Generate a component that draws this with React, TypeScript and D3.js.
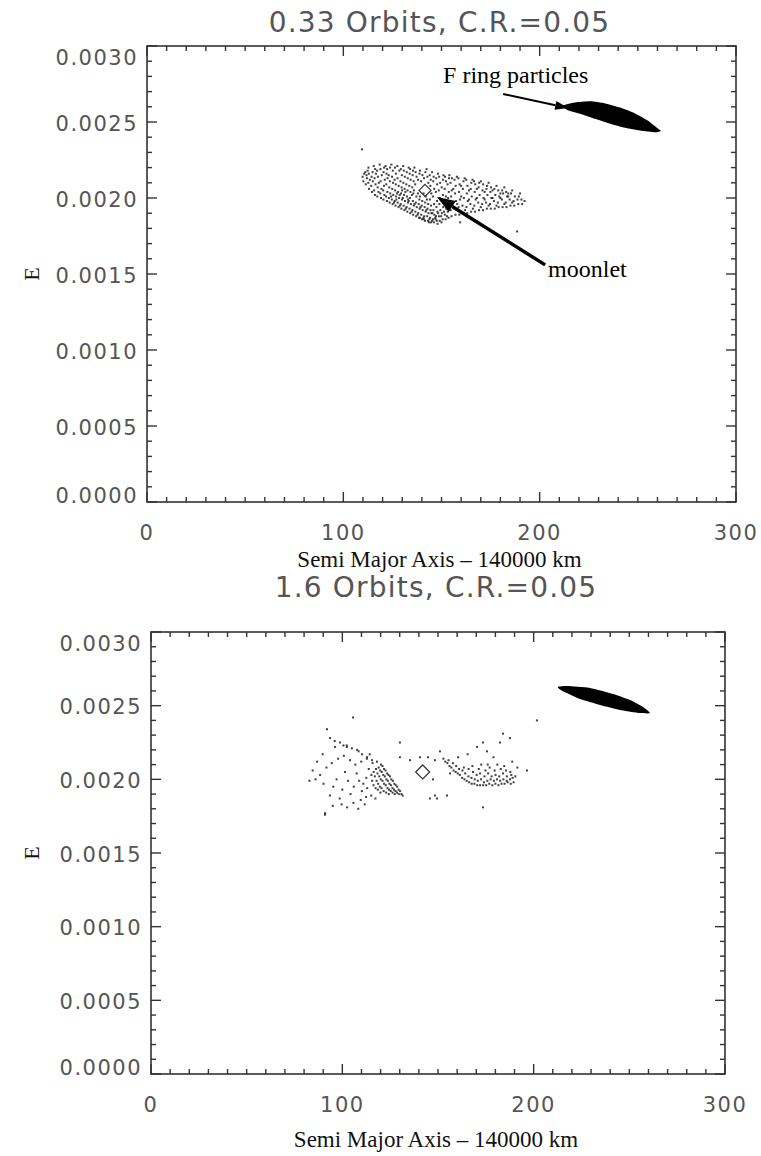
import * as d3 from 'd3';
import { useEffect, useRef } from 'react';

// text
const panelTitles = ['0.33 Orbits, C.R.=0.05', '1.6 Orbits, C.R.=0.05'];
const xTitle = 'Semi Major Axis \u2013 140000 km';
const yTitle = 'E';
const xMajor = [0, 100, 200, 300];
const xLabels = ['0', '100', '200', '300'];
const yMajor = [0, 0.0005, 0.001, 0.0015, 0.002, 0.0025, 0.003];
const yLabels = ['0.0000', '0.0005', '0.0010', '0.0015', '0.0020', '0.0025', '0.0030'];

// moonlet position (a - 140000 km, e)
const moonletTop = [141.6, 0.00205];
const moonletBottom = [142.0, 0.00205];

// outline of the solid F ring particle band
const fringTop = [
  [211.6, 0.002607], [218.0, 0.002628], [225.7, 0.002636], [233.3, 0.002622], [241.0, 0.002595],
  [248.6, 0.002556], [255.2, 0.002508], [260.3, 0.002456], [261.8, 0.002441], [258.8, 0.002432],
  [251.1, 0.002444], [243.5, 0.002462], [235.9, 0.002488], [228.2, 0.002521], [220.6, 0.002555],
  [214.3, 0.002578],
];
const fringBottom = [
  [212.7, 0.002627], [217.4, 0.002633], [229.4, 0.00262], [241.5, 0.002579], [250.4, 0.002538],
  [257.1, 0.002491], [260.8, 0.00245], [255.6, 0.00245], [245.1, 0.002471], [234.7, 0.002505],
  [224.2, 0.002545], [217.4, 0.002586], [213.8, 0.00261],
];

// scattered moonlet-region particles, 0.33 orbits
const cloudTop = [
  [110.2,.00211],[109.8,.00214],[110.6,.00216],
  [111.4,.00209],[112.0,.00213],[111.2,.00217],[111.8,.00215],
  [113.1,.00206],[112.7,.00210],[113.5,.00212],[113.0,.00216],[112.4,.00218],
  [114.6,.00204],[114.2,.00208],[115.0,.00211],[114.4,.00214],[114.9,.00217],
  [116.1,.00202],[115.7,.00205],[116.4,.00209],[115.9,.00213],[116.6,.00216],[116.2,.00219],
  [117.3,.00201],[117.9,.00204],[117.5,.00207],[118.1,.00210],[117.6,.00214],[117.2,.00218],
  [119.2,.00200],[118.8,.00203],[119.4,.00206],[119.0,.00211],[119.6,.00215],[118.9,.00219],
  [120.4,.00199],[120.9,.00202],[120.3,.00205],[120.7,.00208],[121.1,.00212],[120.5,.00217],[120.8,.00220],
  [122.2,.00198],[121.8,.00201],[122.4,.00204],[121.9,.00209],[122.5,.00213],[122.0,.00216],[122.3,.00219],
  [123.6,.00197],[123.2,.00200],[123.9,.00203],[123.4,.00207],[123.7,.00211],[123.1,.00215],[123.8,.00220],
  [125.1,.00196],[124.7,.00199],[125.4,.00202],[124.9,.00206],[125.3,.00210],[124.8,.00214],[125.2,.00218],
  [126.6,.00195],[126.2,.00198],[126.9,.00201],[126.4,.00205],[126.7,.00209],[126.1,.00212],[126.8,.00216],[126.3,.00220],
  [128.1,.00194],[127.7,.00197],[128.4,.00200],[127.9,.00204],[128.2,.00208],[127.6,.00213],[128.5,.00218],
  [129.6,.00193],[129.2,.00196],[129.9,.00199],[129.4,.00203],[129.7,.00207],[129.1,.00211],[129.8,.00215],[129.3,.00219],
  [131.1,.00192],[130.7,.00195],[131.4,.00198],[130.9,.00202],[131.2,.00206],[130.6,.00210],[131.3,.00214],[130.8,.00218],
  [132.6,.00191],[132.2,.00194],[132.9,.00197],[132.4,.00201],[132.7,.00205],[132.1,.00209],[132.8,.00213],[132.3,.00217],
  [134.1,.00190],[133.7,.00193],[134.4,.00196],[133.9,.00200],[134.2,.00204],[133.6,.00208],[134.3,.00212],[133.8,.00216],[134.0,.00219],
  [135.6,.00189],[135.2,.00192],[135.9,.00195],[135.4,.00198],[135.7,.00203],[135.1,.00207],[135.8,.00211],[135.3,.00215],[135.5,.00218],
  [137.1,.00188],[136.7,.00191],[137.4,.00194],[136.9,.00197],[137.2,.00201],[136.6,.00209],[137.3,.00214],[136.8,.00217],
  [138.6,.00187],[138.2,.00190],[138.9,.00193],[138.4,.00196],[138.7,.00199],[138.1,.00212],[138.8,.00216],
  [140.1,.00186],[139.7,.00189],[140.4,.00192],[139.9,.00195],[140.2,.00198],[139.6,.00211],[140.3,.00215],
  [141.6,.00185],[141.2,.00188],[141.9,.00191],[141.4,.00194],[141.7,.00197],[141.1,.00213],[141.8,.00217],
  [143.1,.00185],[142.7,.00188],[143.4,.00190],[142.9,.00193],[143.2,.00196],[142.6,.00199],[143.3,.00210],[142.8,.00214],
  [144.6,.00184],[144.2,.00187],[144.9,.00190],[144.4,.00192],[144.7,.00195],[144.1,.00199],[144.8,.00203],[144.3,.00208],[144.5,.00212],[144.0,.00215],
  [146.1,.00184],[145.7,.00186],[146.4,.00189],[145.9,.00192],[146.2,.00196],[145.6,.00201],[146.3,.00206],[145.8,.00211],[146.0,.00214],
  [147.6,.00185],[147.2,.00188],[147.9,.00191],[147.4,.00194],[147.7,.00198],[147.1,.00204],[147.8,.00209],[147.3,.00213],
  [149.1,.00185],[148.7,.00188],[149.4,.00192],[148.9,.00196],[149.2,.00200],[148.6,.00205],[149.3,.00210],[148.8,.00214],
  [150.6,.00186],[150.2,.00190],[150.9,.00194],[150.4,.00198],[150.7,.00202],[150.1,.00207],[150.8,.00212],
  [152.1,.00186],[151.7,.00189],[152.4,.00193],[151.9,.00197],[152.2,.00201],[151.6,.00206],[152.3,.00211],[151.8,.00214],
  [153.6,.00187],[153.2,.00191],[153.9,.00195],[153.4,.00200],[153.7,.00204],[153.1,.00209],[153.8,.00213],
  [155.1,.00188],[154.7,.00192],[155.4,.00196],[154.9,.00201],[155.2,.00205],[154.6,.00210],[155.3,.00213],
  [157.1,.00189],[156.7,.00193],[157.4,.00198],[156.9,.00203],[157.2,.00208],[156.6,.00212],
  [159.1,.00189],[158.7,.00194],[159.4,.00199],[158.9,.00204],[159.2,.00209],[158.6,.00213],
  [161.1,.00190],[160.7,.00195],[161.4,.00200],[160.9,.00206],[161.2,.00211],
  [163.1,.00190],[162.7,.00194],[163.4,.00198],[162.9,.00203],[163.2,.00208],[162.6,.00212],
  [165.1,.00191],[164.7,.00196],[165.4,.00201],[164.9,.00206],[165.2,.00210],
  [167.1,.00191],[166.7,.00195],[167.4,.00199],[166.9,.00204],[167.2,.00209],[166.6,.00211],
  [169.1,.00192],[168.7,.00197],[169.4,.00202],[168.9,.00207],[169.2,.00210],
  [171.1,.00192],[170.7,.00196],[171.4,.00200],[170.9,.00205],[171.2,.00209],
  [173.1,.00193],[172.7,.00197],[173.4,.00202],[172.9,.00206],[173.2,.00208],
  [175.1,.00193],[174.7,.00196],[175.4,.00200],[174.9,.00204],[175.2,.00207],
  [177.1,.00193],[176.7,.00198],[177.4,.00202],[176.9,.00206],
  [179.1,.00194],[178.7,.00197],[179.4,.00201],[178.9,.00205],
  [181.1,.00194],[180.7,.00199],[181.4,.00203],[180.9,.00205],
  [183.1,.00194],[182.7,.00197],[183.4,.00201],[182.9,.00204],
  [185.1,.00195],[184.7,.00199],[185.4,.00203],
  [187.1,.00195],[186.7,.00198],[187.4,.00201],
  [189.1,.00196],[188.7,.00199],[189.4,.00201],
  [191.1,.00196],[190.7,.00199],
  // darker lower part near the moonlet
  [124.3,.00201],[125.8,.00197],[127.3,.00203],[128.8,.00195],[130.3,.00200],[131.8,.00193],[133.3,.00198],[134.8,.00191],
  [136.3,.00196],[137.8,.00189],[139.3,.00194],[140.8,.00187],[142.3,.00192],[143.8,.00186],[145.3,.00190],[146.8,.00187],
  [148.3,.00190],[149.8,.00188],[151.3,.00191],[138.0,.00203],[139.0,.00201],[140.9,.00203],[142.0,.00201],[136.0,.00205],
  [134.9,.00202],[133.0,.00199],[131.6,.00204],[129.9,.00205],[128.7,.00202],[127.0,.00199],[145.2,.00185],[147.0,.00186],
  [143.6,.00184],[141.0,.00186],[139.0,.00187],[150.0,.00184],[152.8,.00188],[148.0,.00183],
  // filling between the rows
  [112.8,.00220],[115.5,.00221],[118.5,.00222],[121.5,.00221],[124.5,.00222],[127.5,.00221],[130.5,.00221],[133.3,.00220],
  [136.2,.00220],[139.0,.00218],[142.4,.00219],[145.2,.00217],[148.2,.00216],[151.0,.00215],[154.0,.00215],[157.8,.00214],
  [161.8,.00213],[165.8,.00212],[170.0,.00211],[174.0,.00210],[178.0,.00208],[182.0,.00207],[186.0,.00205],[190.0,.00203],
  [192.3,.00198],[158.0,.00196],[162.0,.00192],[166.0,.00193],[170.0,.00194],[174.0,.00195],[178.0,.00195],[182.0,.00196],
  [186.0,.00197],[160.0,.00201],[164.0,.00199],[168.0,.00200],[172.0,.00199],[176.0,.00200],[180.0,.00200],[184.0,.00201],
  [156.0,.00206],[160.0,.00208],[164.0,.00205],[168.0,.00206],[172.0,.00204],[176.0,.00205],[180.0,.00203],[184.0,.00203],
  // strays
  [109.5,.00232],[188.5,.00178],[159.5,.00184],
];

// scattered particles, 1.6 orbits
const cloudBottom = [
  // dense wedge left of the moonlet
  [120.2,.00210],[121.0,.00209],[121.8,.00207],[122.6,.00206],[123.4,.00204],[124.1,.00203],[124.9,.00202],[125.6,.00200],
  [126.4,.00199],[127.2,.00197],[127.9,.00196],[128.7,.00195],[129.4,.00193],[130.2,.00192],[130.9,.00190],[131.5,.00189],
  [119.0,.00208],[119.8,.00206],[120.6,.00205],[121.4,.00203],[122.2,.00202],[123.0,.00200],[123.8,.00199],[124.6,.00197],
  [125.4,.00196],[126.2,.00194],[127.0,.00193],[127.8,.00192],[128.6,.00191],[129.5,.00190],
  [117.6,.00207],[118.4,.00204],[119.3,.00202],[120.1,.00200],[121.0,.00199],[121.8,.00197],[122.7,.00196],[123.6,.00194],
  [124.4,.00193],[125.3,.00192],[126.3,.00191],[127.4,.00190],
  [116.4,.00205],[117.0,.00202],[117.9,.00199],[118.7,.00197],[119.6,.00195],[120.5,.00194],[121.6,.00192],[122.9,.00191],[124.3,.00190],
  [115.2,.00203],[115.6,.00199],[116.3,.00196],[117.4,.00194],[118.6,.00193],[119.9,.00191],
  // sparse spread to the left
  [113.8,.00207],[112.5,.00201],[111.0,.00197],[113.0,.00194],[110.2,.00192],[108.8,.00199],[107.5,.00204],[106.0,.00195],
  [104.3,.00190],[109.6,.00186],[112.4,.00188],[115.1,.00189],[117.3,.00187],[103.0,.00199],[101.4,.00205],[100.0,.00193],
  [98.6,.00187],[97.0,.00200],[95.3,.00195],[99.6,.00183],[102.5,.00181],[105.8,.00184],[108.3,.00180],[111.7,.00183],
  [95.0,.00182],[93.5,.00189],[91.0,.00177],[90.2,.00197],[88.4,.00203],[86.0,.00200],[84.5,.00206],[82.8,.00199],
  [91.7,.00208],[94.5,.00211],[97.8,.00214],[100.8,.00216],[104.0,.00213],[106.8,.00210],[109.9,.00212],[112.8,.00214],
  [115.8,.00211],[102.3,.00223],[96.2,.00222],[89.7,.00217],[86.8,.00212],[108.5,.00219],[114.3,.00217],
  [93.6,.00228],[96.0,.00226],[98.8,.00225],[100.6,.00223],[102.4,.00222],[105.0,.00221],[107.7,.00220],[110.3,.00217],
  [112.9,.00215],[115.5,.00213],[118.1,.00212],[92.0,.00234],[105.6,.00242],[90.9,.00176],
  // around the moonlet
  [130.1,.00225],[135.4,.00213],[140.6,.00215],[144.8,.00215],[148.4,.00213],[130.1,.00215],[147.4,.00200],[148.4,.00189],
  [154.7,.00189],[149.5,.00187],[145.8,.00187],[151.0,.00219],[173.5,.00181],[156.3,.00204],[196.5,.00206],[201.7,.00240],
  // band right of the moonlet
  [152.8,.00214],[153.8,.00212],[154.9,.00211],[156.0,.00209],[157.0,.00208],[158.1,.00206],[159.2,.00205],[160.3,.00204],
  [161.4,.00203],[162.6,.00201],[163.8,.00200],[165.0,.00199],[166.3,.00198],[167.6,.00197],[169.0,.00197],[170.5,.00196],
  [172.0,.00196],[173.6,.00196],[175.2,.00196],[176.8,.00197],[178.4,.00196],[180.0,.00197],[181.6,.00196],[183.2,.00197],
  [184.8,.00197],[186.4,.00198],[188.0,.00197],[189.5,.00198],
  [155.5,.00213],[157.8,.00211],[159.5,.00209],[161.0,.00207],[162.8,.00206],[164.2,.00204],[165.9,.00202],[167.5,.00201],
  [169.2,.00200],[170.8,.00199],[172.5,.00200],[174.0,.00198],[175.8,.00199],[177.5,.00200],[179.2,.00199],[180.8,.00200],
  [182.5,.00199],[184.2,.00200],[185.9,.00199],[187.6,.00200],[189.0,.00201],
  [163.5,.00208],[166.0,.00207],[168.3,.00205],[170.2,.00203],[172.0,.00204],[174.3,.00202],[176.2,.00204],[178.0,.00202],
  [180.1,.00203],[182.0,.00202],[184.0,.00204],[186.0,.00202],[188.3,.00203],[190.4,.00202],
  [168.0,.00209],[171.3,.00207],[174.8,.00206],[177.0,.00208],[179.6,.00206],[182.8,.00207],[185.5,.00206],[187.8,.00205],
  [176.0,.00210],[172.6,.00210],[181.0,.00210],[184.6,.00209],
  [173.5,.00225],[184.0,.00231],[182.4,.00225],[187.6,.00228],[170.4,.00222],[175.6,.00219],[165.5,.00217],[179.0,.00215],
  [160.5,.00215],[188.8,.00212],[191.5,.00208],
];

// annotations on the first panel (data coordinates)
const fringNote = { text: 'F ring particles', at: [150.8, 0.002757], from: [181.4, 0.002684], to: [214.5, 0.002592] };
const moonletNote = { text: 'moonlet', at: [204.3, 0.00148], from: [202.8, 0.00156], to: [147.7, 0.002007] };

const panels = [
  { left: 147, right: 736, top: 46, bottom: 502, titleY: 32, xTitleY: 567, cloud: cloudTop, fring: fringTop, moonlet: moonletTop, notes: true },
  { left: 151, right: 725, top: 632, bottom: 1074, titleY: 597, xTitleY: 1147, cloud: cloudBottom, fring: fringBottom, moonlet: moonletBottom, notes: false },
];

const W = 761, H = 1156;
const sans = '"DejaVu Sans", sans-serif';
const serif = '"Liberation Serif", "Times New Roman", serif';

function arrow(g, x1, y1, x2, y2, width, headLen, headW) {
  const ang = Math.atan2(y2 - y1, x2 - x1);
  const bx = x2 - headLen * Math.cos(ang), by = y2 - headLen * Math.sin(ang);
  g.append('line')
      .attr('x1', x1).attr('y1', y1).attr('x2', bx).attr('y2', by)
      .attr('stroke', '#000').attr('stroke-width', width);
  const nx = -Math.sin(ang) * headW / 2, ny = Math.cos(ang) * headW / 2;
  g.append('path')
      .attr('d', `M${x2},${y2}L${bx + nx},${by + ny}L${bx - nx},${by - ny}Z`)
      .attr('fill', '#000');
}

function OrbitPlots() {
  const ref = useRef(null);

  useEffect(() => {
    d3.select(ref.current).selectAll('*').remove();

    const svg = d3.select(ref.current)
        .append('svg')
        .attr('width', W)
        .attr('height', H)
        .style('position', 'absolute')
        .style('left', 0)
        .style('top', 0)
        .style('background', '#fff');

    panels.forEach((p, i) => {
      const x = d3.scaleLinear().domain([0, 300]).range([p.left, p.right]);
      const y = d3.scaleLinear().domain([0, 0.003]).range([p.bottom, p.top]);
      const g = svg.append('g');

      // particles
      g.selectAll('rect.pt')
          .data(p.cloud)
          .join('rect')
          .attr('class', 'pt')
          .attr('x', d => x(d[0]) - 1)
          .attr('y', d => y(d[1]) - 1)
          .attr('width', 2)
          .attr('height', 2)
          .attr('fill', '#111')
          .attr('opacity', 0.8);

      const band = d3.line()
          .x(d => x(d[0]))
          .y(d => y(d[1]))
          .curve(d3.curveCardinalClosed.tension(0.4));
      g.append('path').attr('d', band(p.fring)).attr('fill', '#000');

      // moonlet diamond
      const mx = x(p.moonlet[0]), my = y(p.moonlet[1]);
      const r = i === 0 ? 6 : 7;
      g.append('path')
          .attr('d', `M${mx},${my - r}L${mx + r},${my}L${mx},${my + r}L${mx - r},${my}Z`)
          .attr('fill', 'none')
          .attr('stroke', '#333')
          .attr('stroke-width', 1.2);

      // frame
      g.append('rect')
          .attr('x', p.left).attr('y', p.top)
          .attr('width', p.right - p.left).attr('height', p.bottom - p.top)
          .attr('fill', 'none').attr('stroke', '#333').attr('stroke-width', 1.6);

      // x ticks every 10, major every 100
      d3.range(0, 31).forEach(k => {
        const v = k * 10;
        const len = xMajor.includes(v) ? 10 : 5;
        const px = x(v);
        g.append('line').attr('x1', px).attr('x2', px).attr('y1', p.bottom).attr('y2', p.bottom - len)
            .attr('stroke', '#333').attr('stroke-width', 1.4);
        g.append('line').attr('x1', px).attr('x2', px).attr('y1', p.top).attr('y2', p.top + len)
            .attr('stroke', '#333').attr('stroke-width', 1.4);
      });
      // y ticks every 0.0001, major every 0.0005
      d3.range(0, 31).forEach(k => {
        const len = k % 5 === 0 ? 10 : 5;
        const py = y(k * 0.0001);
        g.append('line').attr('x1', p.left).attr('x2', p.left + len).attr('y1', py).attr('y2', py)
            .attr('stroke', '#333').attr('stroke-width', 1.4);
        g.append('line').attr('x1', p.right).attr('x2', p.right - len).attr('y1', py).attr('y2', py)
            .attr('stroke', '#333').attr('stroke-width', 1.4);
      });

      // tick labels
      xMajor.forEach((v, k) => {
        g.append('text')
            .attr('x', x(v)).attr('y', p.bottom + 37.5)
            .attr('text-anchor', 'middle')
            .style('font-family', sans).style('font-size', '21px').style('letter-spacing', '1.5px')
            .attr('fill', '#555')
            .text(xLabels[k]);
      });
      yMajor.forEach((v, k) => {
        let by = y(v) + 8.6;
        if (k === yMajor.length - 1) by = p.top + 18.5;
        if (k === 0) by = p.bottom + 1;
        g.append('text')
            .attr('x', p.left - 9).attr('y', by)
            .attr('text-anchor', 'end')
            .style('font-family', sans).style('font-size', '21px').style('letter-spacing', '1.5px')
            .attr('fill', '#555')
            .text(yLabels[k]);
      });

      // titles
      g.append('text')
          .attr('x', (p.left + p.right) / 2 - 2).attr('y', p.titleY)
          .attr('text-anchor', 'middle')
          .style('font-family', sans).style('font-size', '28px').style('letter-spacing', '1.2px')
          .attr('fill', '#555')
          .text(panelTitles[i]);
      g.append('text')
          .attr('x', (p.left + p.right) / 2 - 2).attr('y', p.xTitleY)
          .attr('text-anchor', 'middle')
          .style('font-family', serif).style('font-size', '23px')
          .attr('fill', '#111')
          .text(xTitle);
      g.append('text')
          .attr('transform', `translate(31,${(p.top + p.bottom) / 2}) rotate(-90)`)
          .attr('text-anchor', 'middle')
          .attr('dominant-baseline', 'central')
          .style('font-family', serif).style('font-size', '22px')
          .attr('fill', '#111')
          .text(yTitle);

      if (p.notes) {
        arrow(g, x(fringNote.from[0]), y(fringNote.from[1]), x(fringNote.to[0]), y(fringNote.to[1]), 2, 13, 9);
        g.append('text')
            .attr('x', x(fringNote.at[0])).attr('y', y(fringNote.at[1]))
            .style('font-family', serif).style('font-size', '24px')
            .attr('fill', '#000')
            .text(fringNote.text);
        arrow(g, x(moonletNote.from[0]), y(moonletNote.from[1]), x(moonletNote.to[0]), y(moonletNote.to[1]), 3.5, 18, 13);
        g.append('text')
            .attr('x', x(moonletNote.at[0])).attr('y', y(moonletNote.at[1]))
            .style('font-family', serif).style('font-size', '24px')
            .attr('fill', '#000')
            .text(moonletNote.text);
      }
    });
  }, []);

  return <div ref={ref} />;
}

export default function App() {
  return <OrbitPlots />;
}
